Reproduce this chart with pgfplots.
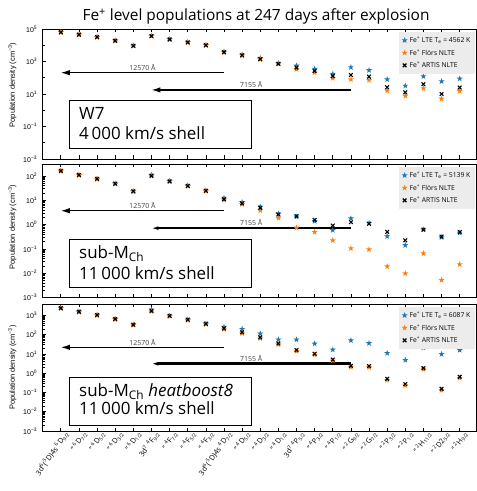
\documentclass[border=0pt]{standalone}
\usepackage{fontspec}
\setmainfont{Open Sans}
\newfontfamily\tickfont{Liberation Sans}
\usepackage{pgfplots}
\pgfplotsset{compat=1.18}
\usetikzlibrary{arrows.meta}
\definecolor{ltebl}{RGB}{31,119,180}
\definecolor{florsor}{RGB}{255,127,14}
\definecolor{legbg}{RGB}{236,236,236}

% filled five-pointed star, like matplotlib's '*'
\pgfdeclareplotmark{fstar}{%
  \pgfpathmoveto{\pgfpointpolar{90}{\pgfplotmarksize}}%
  \pgfpathlineto{\pgfpointpolar{126}{0.4\pgfplotmarksize}}%
  \pgfpathlineto{\pgfpointpolar{162}{\pgfplotmarksize}}%
  \pgfpathlineto{\pgfpointpolar{198}{0.4\pgfplotmarksize}}%
  \pgfpathlineto{\pgfpointpolar{234}{\pgfplotmarksize}}%
  \pgfpathlineto{\pgfpointpolar{270}{0.4\pgfplotmarksize}}%
  \pgfpathlineto{\pgfpointpolar{306}{\pgfplotmarksize}}%
  \pgfpathlineto{\pgfpointpolar{342}{0.4\pgfplotmarksize}}%
  \pgfpathlineto{\pgfpointpolar{18}{\pgfplotmarksize}}%
  \pgfpathlineto{\pgfpointpolar{54}{0.4\pgfplotmarksize}}%
  \pgfpathclose\pgfusepathqfill}

\pgfplotsset{
  fepanel/.style={
    scale only axis, width=433.3bp,
    xmin=-1, xmax=22.9, xtick={0,...,22},
    tick align=inside, xtick pos=both, ytick pos=left,
    axis line style={black, line width=0.9bp},
    major tick length=3.5bp, minor tick length=2bp,
    every tick/.style={black, line width=0.7bp},
    yticklabel style={font=\tickfont\fontsize{7}{8}\selectfont, xshift=-2bp},
    xticklabel style={font=\fontsize{7.3}{8}\selectfont, rotate=55, anchor=north east, inner sep=0.5bp, yshift=-1bp, xshift=3bp},
    legend style={at={(rel axis cs:1,1)}, anchor=north east, xshift=-1bp, yshift=-3bp,
      fill=legbg, draw=none, font=\fontsize{6.8}{8}\selectfont, row sep=1.2bp, inner sep=2.5bp},
    legend cell align=left,
    clip=false,
  },
  lte/.style={only marks, mark=fstar, mark size=3.2bp, color=ltebl},
  flo/.style={only marks, mark=fstar, mark size=3.2bp, color=florsor},
  art/.style={only marks, mark=x, mark size=2.6bp, color=black, mark options={line width=1.1bp}},
}
\tikzset{arrlbl/.style={above=0.3bp, font=\fontsize{7}{8}\selectfont, text=black!75, inner sep=1bp}}

\begin{document}
\begin{tikzpicture}
\path[use as bounding box] (0,0) rectangle (477bp,491bp);

% ---------- W7 ----------
\begin{axis}[fepanel, ymode=log, at={(42.7bp,462bp)}, anchor=north west, height=130bp,
  ymin=1e-3, ymax=1e5,
  ytick={1e-3,1e-1,1e1,1e3,1e5},
  yticklabels={10\textsuperscript{−3},10\textsuperscript{−1},10\textsuperscript{1},10\textsuperscript{3},10\textsuperscript{5}},
  minor ytick={1e-2,1,1e2,1e4},
  xticklabels={}]
\addplot[lte] coordinates {(0,6.3e4)(1,4.5e4)(2,3.2e4)(3,1.9e4)(4,9.3e3)(5,3.8e4)(6,2.3e4)(7,1.5e4)(8,1.0e4)(9,4.0e3)(10,2.6e3)(11,1.6e3)(12,800)(13,550)(14,350)(15,170)(16,440)(17,290)(18,79)(19,32)(20,123)(21,60)(22,87)};
\addlegendentry{Fe\textsuperscript{+} LTE T\textsubscript{e} = 4562 K}
\addplot[flo] coordinates {(0,6.3e4)(1,4.5e4)(2,3.2e4)(3,1.9e4)(4,9.3e3)(5,3.7e4)(6,2.3e4)(7,1.5e4)(8,1.0e4)(9,3.6e3)(10,2.3e3)(11,1.35e3)(12,700)(13,330)(14,210)(15,95)(16,79)(17,72)(18,16)(19,7.6)(20,22)(21,5.1)(22,15)};
\addlegendentry{Fe\textsuperscript{+} Flörs NLTE}
\addplot[art] coordinates {(0,6.3e4)(1,4.5e4)(2,3.2e4)(3,1.9e4)(4,9.3e3)(5,3.7e4)(6,2.3e4)(7,1.5e4)(8,1.0e4)(9,3.7e3)(10,2.4e3)(11,1.4e3)(12,720)(13,420)(14,260)(15,126)(16,148)(17,117)(18,26)(19,12.6)(20,40)(21,10)(22,25)};
\addlegendentry{Fe\textsuperscript{+} ARTIS NLTE}
\draw[line width=1.1bp, -{Latex[length=9bp,width=5.5bp]}] (axis cs:9,204) -- (axis cs:0,204) node[midway, arrlbl] {12570 Å};
\draw[line width=1.2bp, -{Latex[length=9bp,width=5.5bp]}] (axis cs:16,17.8) -- (axis cs:5,17.8) node[midway, arrlbl] {7155 Å};
\end{axis}

% ---------- sub-MCh ----------
\begin{axis}[fepanel, ymode=log, at={(42.7bp,327bp)}, anchor=north west, height=133.5bp,
  ymin=1e-3, ymax=310,
  ytick={1e-3,1e-2,1e-1,1,1e1,1e2},
  yticklabels={10\textsuperscript{−3},10\textsuperscript{−2},10\textsuperscript{−1},10\textsuperscript{0},10\textsuperscript{1},10\textsuperscript{2}},
  xticklabels={}]
\addplot[lte] coordinates {(0,162)(1,110)(2,76)(3,48)(4,23.4)(5,110)(6,62)(7,40)(8,25)(9,12.6)(10,8.3)(11,5.4)(12,2.8)(13,2.1)(14,1.38)(15,0.59)(16,1.78)(17,1.17)(18,0.33)(19,0.141)(20,0.62)(21,0.30)(22,0.46)};
\addlegendentry{Fe\textsuperscript{+} LTE T\textsubscript{e} = 5139 K}
\addplot[flo] coordinates {(0,160)(1,108)(2,74)(3,47)(4,23)(5,100)(6,59)(7,38)(8,24)(9,10.5)(10,6.9)(11,3.8)(12,1.86)(13,0.74)(14,0.49)(15,0.224)(16,0.105)(17,0.095)(18,0.019)(19,0.0098)(20,0.065)(21,0.0052)(22,0.023)};
\addlegendentry{Fe\textsuperscript{+} Flörs NLTE}
\addplot[art] coordinates {(0,162)(1,110)(2,76)(3,48)(4,23.4)(5,102)(6,60)(7,39)(8,24.5)(9,11)(10,7.4)(11,4.9)(12,2.6)(13,2.24)(14,1.55)(15,0.91)(16,1.26)(17,1.07)(18,0.5)(19,0.224)(20,0.62)(21,0.32)(22,0.49)};
\addlegendentry{Fe\textsuperscript{+} ARTIS NLTE}
\draw[line width=1.2bp, -{Latex[length=9bp,width=5.5bp]}] (axis cs:9,3.7) -- (axis cs:0,3.7) node[midway, arrlbl] {12570 Å};
\draw[line width=2.3bp, -{Latex[length=7bp,width=4bp]}] (axis cs:16,0.71) -- (axis cs:5,0.71) node[midway, arrlbl] {7155 Å};
\end{axis}

% ---------- sub-MCh heatboost8 ----------
\begin{axis}[fepanel, ymode=log, at={(42.7bp,187bp)}, anchor=north west, height=127bp,
  ymin=1e-3, ymax=3900,
  ytick={1e-3,1e-2,1e-1,1,1e1,1e2,1e3},
  yticklabels={10\textsuperscript{−3},10\textsuperscript{−2},10\textsuperscript{−1},10\textsuperscript{0},10\textsuperscript{1},10\textsuperscript{2},10\textsuperscript{3}},
  xticklabels={
    3d\textsuperscript{6}(\textsuperscript{5}D)4s \textsuperscript{6}D\textsubscript{9/2},
    " \textsuperscript{6}D\textsubscript{7/2},
    " \textsuperscript{6}D\textsubscript{5/2},
    " \textsuperscript{6}D\textsubscript{3/2},
    " \textsuperscript{6}D\textsubscript{1/2},
    3d\textsuperscript{7} \textsuperscript{4}F\textsubscript{9/2},
    " \textsuperscript{4}F\textsubscript{7/2},
    " \textsuperscript{4}F\textsubscript{5/2},
    " \textsuperscript{4}F\textsubscript{3/2},
    3d\textsuperscript{6}(\textsuperscript{5}D)4s \textsuperscript{4}D\textsubscript{7/2},
    " \textsuperscript{4}D\textsubscript{5/2},
    " \textsuperscript{4}D\textsubscript{3/2},
    " \textsuperscript{4}D\textsubscript{1/2},
    3d\textsuperscript{7} \textsuperscript{4}P\textsubscript{5/2},
    " \textsuperscript{4}P\textsubscript{3/2},
    " \textsuperscript{4}P\textsubscript{1/2},
    " \textsuperscript{2}G\textsubscript{9/2},
    " \textsuperscript{2}G\textsubscript{7/2},
    " \textsuperscript{2}P\textsubscript{3/2},
    " \textsuperscript{2}P\textsubscript{1/2},
    " \textsuperscript{2}H\textsubscript{11/2},
    " \textsuperscript{2}D2\textsubscript{5/2},
    " \textsuperscript{2}H\textsubscript{9/2}}]
\addplot[lte] coordinates {(0,2400)(1,1550)(2,1050)(3,650)(4,330)(5,2000)(6,950)(7,600)(8,370)(9,250)(10,195)(11,112)(12,55)(13,55)(14,34)(15,16.6)(16,50)(17,36)(18,11)(19,4.8)(20,21)(21,9.8)(22,15.8)};
\addlegendentry{Fe\textsuperscript{+} LTE T\textsubscript{e} = 6087 K}
\addplot[flo] coordinates {(0,2350)(1,1500)(2,1000)(3,620)(4,315)(5,1600)(6,900)(7,560)(8,345)(9,190)(10,118)(11,64)(12,31)(13,14)(14,9)(15,4.5)(16,2.1)(17,2.05)(18,0.44)(19,0.23)(20,1.6)(21,0.13)(22,0.56)};
\addlegendentry{Fe\textsuperscript{+} Flörs NLTE}
\addplot[art] coordinates {(0,2400)(1,1550)(2,1050)(3,650)(4,330)(5,1700)(6,950)(7,600)(8,370)(9,210)(10,132)(11,72)(12,35)(13,15.8)(14,10.2)(15,5.1)(16,2.4)(17,2.34)(18,0.51)(19,0.27)(20,1.82)(21,0.155)(22,0.65)};
\addlegendentry{Fe\textsuperscript{+} ARTIS NLTE}
\draw[line width=1.3bp, -{Latex[length=9bp,width=5.5bp]}] (axis cs:9,22) -- (axis cs:0,22) node[midway, arrlbl] {12570 Å};
\draw[line width=2.5bp, -{Latex[length=7bp,width=4bp]}] (axis cs:16,3.1) -- (axis cs:5,3.1) node[midway, arrlbl] {7155 Å};
\end{axis}

% title, y labels, model boxes
\node[anchor=base, font=\fontsize{15.5}{18}\selectfont] at (256bp,470.3bp) {Fe\textsuperscript{+} level populations at 247 days after explosion};
\foreach \yc in {406,264,123.5}
  \node[rotate=90, font=\tickfont\fontsize{7.5}{9}\selectfont] at (12.3bp,\yc bp) {Population density (cm\textsuperscript{−3})};

\begin{scope}[every node/.style={anchor=base west, inner sep=0pt, font=\fontsize{17}{20}\selectfont}]
\draw[fill=white, line width=0.9bp] (69.3bp,391bp) rectangle (251bp,343bp);
\node at (79bp,371bp) {W7};
\node at (79bp,351bp) {4\,000 km/s shell};
\draw[fill=white, line width=0.9bp] (69.3bp,252bp) rectangle (251bp,203.7bp);
\node at (79bp,232.3bp) {sub-M\textsubscript{Ch}};
\node at (79bp,211.7bp) {11\,000 km/s shell};
\draw[fill=white, line width=0.9bp] (69.3bp,113.7bp) rectangle (251bp,66bp);
\node at (79bp,94.3bp) {sub-M\textsubscript{Ch} \textit{heatboost8}};
\node at (79bp,76bp) {11\,000 km/s shell};
\end{scope}
\end{tikzpicture}
\end{document}
